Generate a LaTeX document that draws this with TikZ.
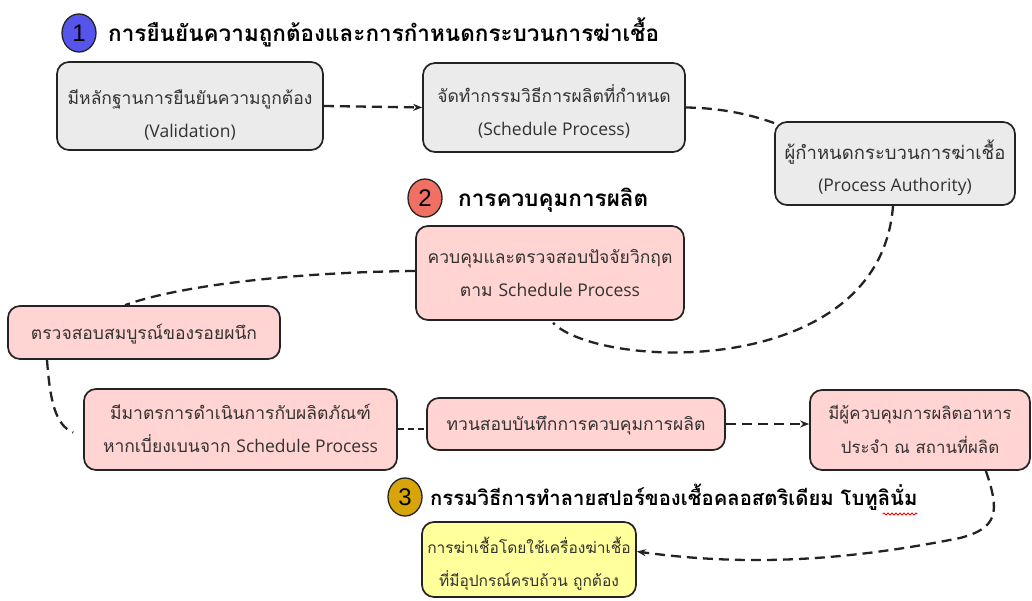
\documentclass[tikz,border=0pt]{standalone}
\usepackage{fontspec}
\setmainfont{Loma}[Script=Thai]
\newfontfamily\thaifont[Script=Thai]{Loma}
\newfontfamily\latf{Open Sans}
\newfontfamily\numfont{Liberation Sans}
\usetikzlibrary{arrows.meta,shapes.geometric,decorations.pathmorphing}
\definecolor{bordc}{RGB}{35,35,35}
\definecolor{txtc}{RGB}{50,50,50}
\definecolor{greyc}{RGB}{235,235,235}
\definecolor{pinkc}{RGB}{255,212,210}
\definecolor{yelc}{RGB}{255,255,155}
\definecolor{bluec}{RGB}{85,85,235}
\definecolor{redc}{RGB}{240,112,100}
\definecolor{goldc}{RGB}{215,165,10}
\newcommand\lat[1]{{\latf #1}}
\newcommand\bt[2]{\raisebox{#1}[\height][\depth]{\begin{tabular}{@{}c@{}}#2\end{tabular}}}
\begin{document}
\begin{tikzpicture}[x=1pt,y=-1pt,
  box/.style={draw=bordc, line width=1.7pt, rounded corners=12pt, text=txtc,
    font=\thaifont\fontsize{17.5}{33}\selectfont, inner sep=0pt},
  gbox/.style={box, fill=greyc},
  pbox/.style={box, fill=pinkc},
  ybox/.style={box, fill=yelc},
  conn/.style={draw=bordc, line width=2.3pt, dash pattern=on 10pt off 6pt},
  arr/.style={conn, -{Stealth[length=9pt,width=7pt]}},
  num/.style={ellipse, draw=bordc, line width=1.3pt, minimum width=34pt, minimum height=38pt,
    inner sep=0pt, font=\numfont\fontsize{24}{24}\selectfont},
  head/.style={anchor=base west, inner sep=0pt, text=black, font=\thaifont\bfseries\fontsize{22.5}{26}\selectfont}]
\useasboundingbox (0,0) rectangle (1032,601);

% section 1
\node[num, fill=bluec] (n1) at (79,33) {1};
\node[head] (h1) at (108,42) {การยืนยันความถูกต้องและการกำหนดกระบวนการฆ่าเชื้อ};
\node[gbox, minimum width=266pt, minimum height=88pt] (val) at (190,106) {\bt{-8pt}{มีหลักฐานการยืนยันความถูกต้อง\\\lat{(Validation)}}};
\node[gbox, minimum width=262pt, minimum height=89pt] (sch) at (554,107.5) {\bt{-5pt}{จัดทำกรรมวิธีการผลิตที่กำหนด\\\lat{(Schedule Process)}}};
\node[gbox, minimum width=240pt, minimum height=83pt, font=\thaifont\fontsize{18.5}{32}\selectfont] (pa) at (895,163.5) {\bt{-6pt}{ผู้กำหนดกระบวนการฆ่าเชื้อ\\\lat{\fontsize{17.5}{32}\selectfont(Process Authority)}}};

% section 2
\node[num, fill=redc] (n2) at (425,198) {2};
\node[head] (h2) at (458,207) {การควบคุมการผลิต};
\node[pbox, minimum width=268pt, minimum height=94pt] (ctl) at (550,273) {\bt{0pt}{ควบคุมและตรวจสอบปัจจัยวิกฤต\\ตาม \lat{Schedule Process}}};
\node[pbox, minimum width=272pt, minimum height=53pt] (seal) at (144,332.5) {\bt{0pt}{ตรวจสอบสมบูรณ์ของรอยผนึก}};
\node[pbox, minimum width=313pt, minimum height=81pt] (dev) at (240.5,429.5) {\bt{0pt}{มีมาตรการดำเนินการกับผลิตภัณฑ์\\หากเบี่ยงเบนจาก \lat{Schedule Process}}};
\node[pbox, minimum width=298pt, minimum height=52pt] (rec) at (576,424) {\bt{0pt}{ทวนสอบบันทึกการควบคุมการผลิต}};
\node[pbox, minimum width=220pt, minimum height=80pt, font=\thaifont\fontsize{16.8}{34}\selectfont] (sup) at (920,430) {\bt{0pt}{มีผู้ควบคุมการผลิตอาหาร\\ประจำ ณ สถานที่ผลิต}};

% section 3
\node[num, fill=goldc] (n3) at (405,497) {3};
\node[head, font=\thaifont\bfseries\fontsize{20.3}{24}\selectfont] (h3) at (430,505) {กรรมวิธีการทำลายสปอร์ของเชื้อคลอสตริเดียม โบทูลินั่ม};
\node[ybox, minimum width=214pt, minimum height=75pt, font=\thaifont\fontsize{15.5}{33}\selectfont] (ster) at (529,559.5) {\bt{-4pt}{การฆ่าเชื้อโดยใช้เครื่องฆ่าเชื้อ\\ที่มีอุปกรณ์ครบถ้วน ถูกต้อง}};
\draw[red, line width=0.8pt, decorate, decoration={snake, amplitude=1pt, segment length=4pt}]
  ([xshift=-35pt,yshift=-9pt]h3.base east) -- ([yshift=-9pt]h3.base east);

% connectors
\draw[arr] (val.east) -- (sch.west);
\draw[conn] (sch.east) .. controls (720,108) and (750,114) .. ([xshift=3pt,yshift=-3pt]pa.north west);
\draw[conn] ([xshift=-2pt]pa.south) .. controls (880,380) and (600,370) .. ([xshift=3pt,yshift=-2pt]ctl.south);
\draw[conn] ([yshift=2pt]ctl.west) .. controls (300,272) and (180,285) .. ([xshift=-19pt]seal.north);
\draw[conn] ([xshift=-97pt]seal.south) .. controls (50,400) and (55,425) .. ([xshift=-10pt,yshift=-3pt]dev.west);
\coordinate (recin) at ([yshift=-5pt]rec.west);
\draw[conn, dash pattern=on 6pt off 4pt] (dev.east |- recin) -- (recin);
\draw[arr] (rec.east) -- (rec.east -| sup.west);
\draw[arr] ([xshift=-45pt]sup.south east) .. controls (1000,512) and (998,528) .. (960,538)
  .. controls (850,560) and (750,567) .. ([yshift=8pt]ster.east);
\end{tikzpicture}
\end{document}
